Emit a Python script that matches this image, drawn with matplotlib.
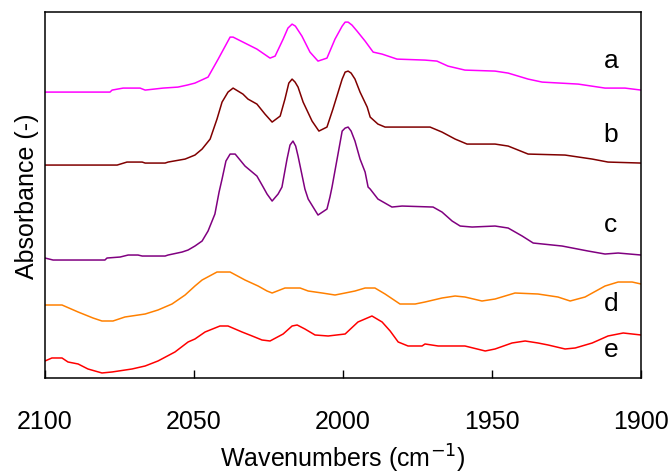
import matplotlib
matplotlib.use("Agg")
import matplotlib.pyplot as plt

plt.rcParams["font.family"] = ["Liberation Sans", "DejaVu Sans"]

# spectra (wavenumber cm-1, absorbance with offsets)
wn_a = [2100, 2078.2, 2077.5, 2073.8, 2068.1, 2066.4, 2060.4, 2055.4, 2052.3, 2049.7,
        2045.3, 2041.9, 2037.9, 2036.9, 2032.9, 2028.9, 2024.5, 2022.8, 2020.1, 2018.5,
        2017.1, 2016.0, 2013.8, 2011.1, 2008.4, 2005.4, 2002.7, 2000.3, 1999.3, 1998.3,
        1997.0, 1995.3, 1992.6, 1989.9, 1986.9, 1981.9, 1972.5, 1968.5, 1964.8, 1959.1,
        1949.0, 1944.6, 1937.9, 1933.2, 1921.1, 1912.1, 1905.4, 1900.0]
abs_a = [2.86, 2.86, 2.88, 2.90, 2.90, 2.88, 2.90, 2.91, 2.93, 2.95,
         3.01, 3.19, 3.41, 3.41, 3.35, 3.29, 3.20, 3.22, 3.39, 3.50,
         3.54, 3.52, 3.42, 3.26, 3.17, 3.20, 3.39, 3.52, 3.56, 3.56,
         3.53, 3.47, 3.37, 3.26, 3.24, 3.19, 3.18, 3.17, 3.12, 3.08,
         3.07, 3.05, 2.99, 2.96, 2.94, 2.90, 2.90, 2.88]

wn_b = [2100, 2075.8, 2072.5, 2067.4, 2066.4, 2059.7, 2058.7, 2053.0, 2049.7, 2047.3,
        2044.6, 2042.3, 2040.6, 2038.6, 2036.9, 2033.6, 2031.9, 2028.9, 2026.2, 2023.8,
        2021.1, 2019.5, 2018.2, 2017.1, 2016.1, 2015.1, 2013.4, 2010.4, 2008.1, 2005.4,
        2003.4, 2000.3, 1999.3, 1998.3, 1997.3, 1996.0, 1994.3, 1991.9, 1990.9, 1988.3,
        1985.9, 1981.5, 1970.8, 1966.8, 1962.4, 1958.4, 1949.0, 1944.6, 1937.9, 1925.5,
        1916.4, 1911.1, 1900.0]
abs_b = [2.13, 2.13, 2.16, 2.16, 2.15, 2.15, 2.16, 2.19, 2.23, 2.29,
         2.39, 2.59, 2.76, 2.86, 2.90, 2.84, 2.79, 2.74, 2.64, 2.56,
         2.62, 2.79, 2.95, 2.99, 2.96, 2.91, 2.76, 2.57, 2.47, 2.51,
         2.69, 2.99, 3.06, 3.07, 3.05, 2.99, 2.86, 2.71, 2.61, 2.54,
         2.51, 2.51, 2.51, 2.46, 2.39, 2.34, 2.34, 2.32, 2.24, 2.23,
         2.19, 2.16, 2.15]

wn_c = [2100, 2097.3, 2079.9, 2079.2, 2074.8, 2072.1, 2068.8, 2067.4, 2059.7, 2058.7,
        2054.0, 2052.0, 2049.7, 2047.3, 2045.3, 2043.0, 2041.6, 2040.6, 2039.3, 2037.9,
        2036.2, 2032.9, 2028.9, 2026.8, 2025.5, 2023.8, 2021.8, 2020.5, 2018.8, 2017.8,
        2016.8, 2015.9, 2015.1, 2012.8, 2011.7, 2008.4, 2005.4, 2004.4, 2003.7, 2000.3,
        1999.3, 1998.3, 1997.3, 1996.0, 1994.3, 1992.6, 1991.6, 1990.9, 1988.3, 1983.6,
        1980.2, 1969.8, 1966.8, 1963.4, 1960.7, 1956.7, 1949.0, 1944.6, 1939.9, 1936.2,
        1926.5, 1917.8, 1912.1, 1907.7, 1900.0]
abs_c = [1.20, 1.18, 1.18, 1.20, 1.21, 1.23, 1.23, 1.22, 1.22, 1.23,
         1.26, 1.28, 1.32, 1.37, 1.47, 1.64, 1.86, 1.99, 2.17, 2.24,
         2.24, 2.12, 2.02, 1.91, 1.84, 1.77, 1.84, 1.91, 2.19, 2.33,
         2.37, 2.32, 2.22, 1.89, 1.79, 1.63, 1.69, 1.81, 1.91, 2.47,
         2.50, 2.51, 2.47, 2.37, 2.19, 2.06, 1.91, 1.89, 1.79, 1.71,
         1.72, 1.71, 1.66, 1.57, 1.52, 1.51, 1.52, 1.50, 1.42, 1.35,
         1.32, 1.27, 1.24, 1.25, 1.23]

wn_d = [2100, 2094.3, 2088.9, 2083.9, 2080.9, 2077.2, 2073.2, 2066.4, 2062.1, 2057.4,
        2053.0, 2049.7, 2047.3, 2042.3, 2037.9, 2032.9, 2028.5, 2025.5, 2023.8, 2019.5,
        2014.4, 2011.7, 2007.0, 2002.7, 1999.3, 1996.0, 1992.6, 1989.3, 1985.9, 1980.9,
        1975.8, 1972.5, 1966.8, 1962.4, 1959.1, 1953.4, 1949.0, 1942.3, 1934.6, 1927.9,
        1923.8, 1918.8, 1912.1, 1907.7, 1903.0, 1900.0]
abs_d = [0.73, 0.73, 0.66, 0.60, 0.57, 0.57, 0.61, 0.64, 0.68, 0.74,
         0.83, 0.92, 0.98, 1.06, 1.06, 0.98, 0.92, 0.87, 0.85, 0.90,
         0.90, 0.87, 0.85, 0.83, 0.85, 0.87, 0.90, 0.90, 0.84, 0.74,
         0.74, 0.76, 0.80, 0.82, 0.81, 0.77, 0.79, 0.85, 0.84, 0.81,
         0.77, 0.81, 0.92, 0.96, 0.96, 0.94]

wn_e = [2100, 2097.7, 2094.3, 2092.3, 2088.9, 2085.6, 2080.9, 2077.5, 2070.8, 2066.4,
        2062.1, 2056.4, 2052.0, 2049.7, 2046.3, 2041.3, 2038.6, 2033.9, 2030.5, 2027.2,
        2024.5, 2020.1, 2017.1, 2015.4, 2012.8, 2009.4, 2005.0, 1999.3, 1995.0, 1990.3,
        1986.9, 1984.2, 1981.5, 1978.2, 1973.5, 1972.5, 1968.1, 1959.1, 1952.3, 1949.0,
        1943.3, 1938.9, 1934.6, 1931.2, 1925.5, 1922.1, 1916.4, 1911.1, 1906.0, 1900.0]
abs_e = [0.17, 0.20, 0.20, 0.16, 0.14, 0.09, 0.05, 0.06, 0.09, 0.12,
         0.17, 0.26, 0.36, 0.39, 0.46, 0.52, 0.52, 0.46, 0.42, 0.38,
         0.37, 0.44, 0.52, 0.53, 0.49, 0.43, 0.42, 0.44, 0.56, 0.62,
         0.56, 0.47, 0.36, 0.32, 0.32, 0.34, 0.32, 0.32, 0.27, 0.29,
         0.35, 0.37, 0.35, 0.33, 0.29, 0.30, 0.35, 0.42, 0.45, 0.43]

labels = ["a", "b", "c", "d", "e"]
label_y = [3.18, 2.44, 1.54, 0.75, 0.29]
colors = ["#FF00FF", "#800000", "#800080", "#FF8000", "#FF0000"]

fig = plt.figure(figsize=(6.72, 4.77), dpi=100)
ax = fig.add_axes([0.067, 0.2055, 0.887, 0.767])

series = [(wn_a, abs_a), (wn_b, abs_b), (wn_c, abs_c), (wn_d, abs_d), (wn_e, abs_e)]
for (x, y), c in zip(series, colors):
    ax.plot(x, y, color=c, linewidth=1.1)

for lab, ly in zip(labels, label_y):
    ax.text(1910.1, ly, lab, fontsize=19, ha="center", va="center")

ax.set_xlim(2100, 1900)
ax.set_ylim(0, 3.66)
ax.set_xticks([2100, 2050, 2000, 1950, 1900])
ax.set_yticks([])
ax.tick_params(axis="x", direction="in", length=6, width=1, pad=22, labelsize=18)
for s in ax.spines.values():
    s.set_linewidth(1.1)

ax.set_xlabel("Wavenumbers (cm$^{-1}$)", fontsize=18, labelpad=7)
ax.set_ylabel("Absorbance (-)", fontsize=18, labelpad=4)

plt.savefig("out.png", dpi=100)
